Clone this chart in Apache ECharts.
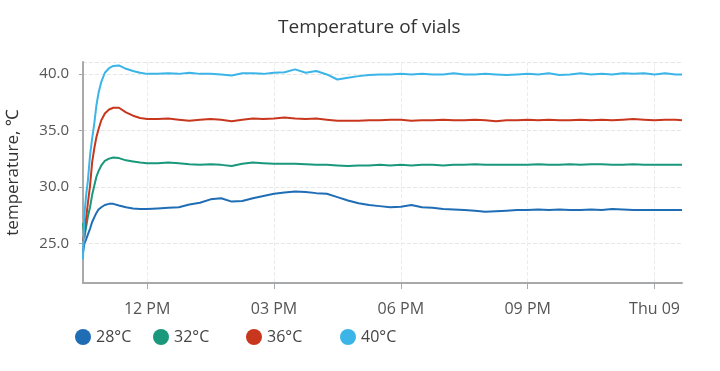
<!DOCTYPE html>
<html>
<head>
<meta charset="utf-8">
<title>Temperature of vials</title>
<script src="https://cdn.jsdelivr.net/npm/echarts@6/dist/echarts.min.js"></script>
<style>
  html, body { margin: 0; padding: 0; background: #fff; }
  #chart { width: 720px; height: 371px; }
</style>
</head>
<body>
<div id="chart"></div>
<script>
// clock times of the readings, Wed 8 -> Thu 9 (rolls over after midnight)
const times = [
  '10:29', '10:31', '10:33', '10:36', '10:39', '10:42', '10:45', '10:48', '10:51', '10:55',
  '11:00', '11:06', '11:12', '11:20', '11:30', '11:40', '11:50', '12:00',
  '12:15', '12:30', '12:45', '13:00', '13:15', '13:30', '13:45', '14:00', '14:15', '14:30',
  '14:45', '15:00', '15:15', '15:30', '15:45', '16:00', '16:15', '16:30', '16:45', '17:00',
  '17:15', '17:30', '17:45', '18:00', '18:15', '18:30', '18:45', '19:00', '19:15', '19:30',
  '19:45', '20:00', '20:15', '20:30', '20:45', '21:00', '21:15', '21:30', '21:45', '22:00',
  '22:15', '22:30', '22:45', '23:00', '23:15', '23:30', '23:45', '00:00', '00:15', '00:30', '00:39'
];

// x-axis tick times
const tickTimes = ['12:00', '15:00', '18:00', '21:00', '00:00'];

const seriesNames = ['28°C', '32°C', '36°C', '40°C'];
const colors = ['#1f6db5', '#1a987c', '#c8371d', '#3bb5e8'];

const vial28 = [
  24.2, 25.0, 25.3, 25.8, 26.3, 26.9, 27.3, 27.7, 28.0, 28.2,
  28.4, 28.5, 28.5, 28.35, 28.2, 28.1, 28.05, 28.05,
  28.1, 28.15, 28.2, 28.45, 28.6, 28.9, 29.0, 28.7, 28.75, 29.0,
  29.2, 29.4, 29.5, 29.6, 29.55, 29.45, 29.4, 29.1, 28.8, 28.55,
  28.4, 28.3, 28.2, 28.25, 28.4, 28.2, 28.15, 28.05, 28.0, 27.95,
  27.9, 27.8, 27.85, 27.9, 27.95, 27.95, 28.0, 27.95, 28.0, 27.95,
  27.95, 28.0, 27.95, 28.05, 28.0, 27.95, 27.95, 27.95, 27.95, 27.95, 27.95
];
const vial32 = [
  26.8, 25.5, 26.3, 27.4, 28.2, 29.3, 30.1, 30.9, 31.4, 31.9,
  32.3, 32.5, 32.6, 32.55, 32.35, 32.25, 32.15, 32.1,
  32.1, 32.15, 32.1, 32.0, 31.95, 32.0, 31.95, 31.85, 32.05, 32.15,
  32.1, 32.05, 32.05, 32.05, 32.0, 31.95, 31.95, 31.9, 31.85, 31.9,
  31.9, 31.95, 31.9, 31.95, 31.9, 31.95, 31.95, 31.9, 31.95, 31.95,
  32.0, 31.95, 31.95, 31.95, 31.95, 31.95, 32.0, 31.95, 31.95, 32.0,
  31.95, 32.0, 32.0, 31.95, 31.95, 32.0, 31.95, 31.95, 31.95, 31.95, 31.95
];
const vial36 = [
  25.2, 25.9, 27.0, 28.6, 30.1, 32.2, 33.4, 34.4, 35.1, 35.9,
  36.5, 36.85, 37.0, 37.0, 36.6, 36.3, 36.1, 36.0,
  36.0, 36.05, 35.95, 35.85, 35.95, 36.0, 35.95, 35.8, 35.95, 36.05,
  36.0, 36.05, 36.15, 36.05, 36.0, 36.05, 35.95, 35.85, 35.85, 35.85,
  35.9, 35.9, 35.95, 35.95, 35.85, 35.9, 35.9, 35.95, 35.9, 35.9,
  35.95, 35.9, 35.8, 35.9, 35.9, 35.95, 35.9, 35.95, 35.9, 35.9,
  35.95, 35.9, 35.95, 35.9, 35.95, 36.0, 35.95, 35.9, 35.95, 35.95, 35.9
];
const vial40 = [
  23.6, 27.5, 29.0, 30.6, 32.8, 34.3, 35.6, 37.2, 38.3, 39.3,
  40.1, 40.5, 40.7, 40.75, 40.45, 40.25, 40.1, 40.0,
  40.0, 40.05, 40.0, 40.1, 40.0, 40.0, 39.95, 39.85, 40.05, 40.05,
  40.0, 40.1, 40.15, 40.4, 40.1, 40.25, 39.95, 39.5, 39.65, 39.8,
  39.9, 39.95, 39.95, 40.0, 39.95, 40.0, 39.95, 39.95, 40.05, 39.95,
  39.95, 40.0, 39.95, 39.9, 39.95, 40.0, 39.95, 40.05, 39.9, 39.95,
  40.05, 39.95, 40.0, 39.95, 40.05, 40.0, 40.05, 39.95, 40.05, 39.95, 39.95
];

const seriesValues = [vial28, vial32, vial36, vial40];

// 'HH:MM' -> minutes since Wed 00:00, adding a day once the clock wraps
const toMinutes = (list, startAfter) => {
  let offset = 0;
  let last = startAfter;
  return list.map((t) => {
    const [h, m] = t.split(':').map(Number);
    const mins = h * 60 + m;
    if (mins < last) offset += 1440;
    last = mins;
    return mins + offset;
  });
};
const minutes = toMinutes(times, -1);
const tickMinutes = toMinutes(tickTimes, 10 * 60);

const pad = (n) => (n < 10 ? '0' + n : '' + n);
const dayNames = ['Wed', 'Thu', 'Fri'];
const timeLabel = (value) => {
  const day = Math.floor(value / 1440);
  const mins = value - day * 1440;
  const h = Math.floor(mins / 60);
  if (mins === 0) return dayNames[day] + ' ' + pad(8 + day);
  const h12 = h % 12 === 0 ? 12 : h % 12;
  return pad(h12) + (h < 12 ? ' AM' : ' PM');
};

const fontFamily = "'Open Sans', 'Noto Sans', sans-serif";

// one legend per vial so each item sits where the original puts it
const legendLefts = [75, 153, 246, 340];

const option = {
  animation: false,
  textStyle: { fontFamily: fontFamily },
  title: {
    text: 'Temperature of vials',
    left: 273,
    top: 13,
    textStyle: { fontSize: 19, fontWeight: 'normal', color: '#333', fontFamily: fontFamily }
  },
  legend: seriesNames.map((name, i) => ({
    left: legendLefts[i],
    top: 329,
    padding: 0,
    icon: 'circle',
    itemWidth: 16,
    itemHeight: 16,
    textStyle: { fontSize: 16, color: '#444' },
    data: [name]
  })),
  grid: {
    left: 83,
    right: 38,
    top: 62,
    bottom: 88,
    outerBoundsMode: 'none'
  },
  xAxis: {
    type: 'value',
    min: 'dataMin',
    max: 'dataMax',
    axisLine: { lineStyle: { color: '#a7a9ab', width: 2 } },
    axisTick: {
      show: true,
      length: 6,
      customValues: tickMinutes,
      lineStyle: { color: '#a7a9ab' }
    },
    axisLabel: {
      color: '#555',
      fontSize: 16,
      margin: 18,
      customValues: tickMinutes,
      formatter: timeLabel
    },
    splitLine: { show: true, lineStyle: { color: '#ececec', type: 'dashed' } }
  },
  yAxis: {
    type: 'value',
    min: 21.5,
    max: 41.05,
    splitNumber: 4,
    name: 'temperature, ℃',
    nameLocation: 'middle',
    nameGap: 61,
    nameTextStyle: { fontSize: 17, color: '#333' },
    axisLine: { show: true, lineStyle: { color: '#a7a9ab', width: 2 } },
    axisTick: { show: true, length: 4, lineStyle: { color: '#a7a9ab' } },
    axisLabel: {
      color: '#555',
      fontSize: 15,
      margin: 14,
      showMinLabel: false,
      showMaxLabel: false,
      formatter: (v) => v.toFixed(1)
    },
    splitLine: { lineStyle: { color: '#e6e6e6', type: 'dashed' } }
  },
  series: seriesNames.map((name, i) => ({
    name: name,
    type: 'line',
    smooth: false,
    showSymbol: false,
    color: colors[i],
    lineStyle: { width: 2 },
    data: minutes.map((t, j) => [t, seriesValues[i][j]])
  }))
};

const myChart = echarts.init(document.getElementById('chart'));
myChart.setOption(option);
</script>
</body>
</html>
